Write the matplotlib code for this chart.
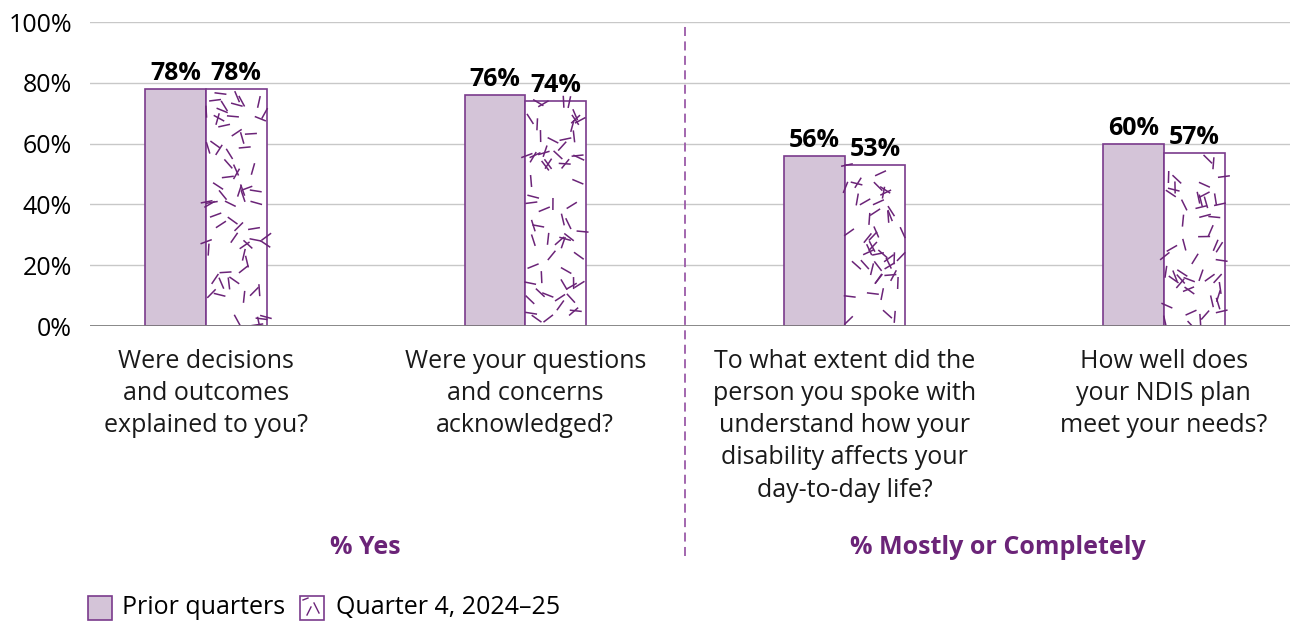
import numpy as np
import matplotlib
matplotlib.use("Agg")
import matplotlib.pyplot as plt
from matplotlib.patches import Rectangle
from matplotlib.collections import LineCollection

plt.rcParams['font.family'] = ['Open Sans', 'DejaVu Sans']

# chart data
questions = [
    "Were decisions\nand outcomes\nexplained to you?",
    "Were your questions\nand concerns\nacknowledged?",
    "To what extent did the\nperson you spoke with\nunderstand how your\ndisability affects your\nday-to-day life?",
    "How well does\nyour NDIS plan\nmeet your needs?",
]
prior = [78, 76, 56, 60]
current = [78, 74, 53, 57]
sections = ["% Yes", "% Mostly or Completely"]
series_names = ["Prior quarters", "Quarter 4, 2024\u201325"]

PURPLE = "#7a3b8c"
DARK_PURPLE = "#6b2478"
FILL = "#d4c4d8"
GRID = "#c8c8c8"
FS = 18

fig = plt.figure(figsize=(12.93, 6.25), dpi=100)
ax = fig.add_axes([90 / 1293, 299 / 625, 1200 / 1293, 304 / 625])

x = np.arange(len(questions))
w = 0.19
ax.set_xlim(-0.363, 3.395)
ax.set_ylim(0, 100)

ax.bar(x - w / 2, prior, w, color=FILL, edgecolor=PURPLE, linewidth=1.2, zorder=3)
bars2 = ax.bar(x + w / 2, current, w, color="white", edgecolor=PURPLE, linewidth=1.2, zorder=3)


def confetti(ax, patch, rng, density=0.005, seg_px=12):
    # scatter short dashes inside a bar, clipped to its outline
    px = ax.transData.transform([(0, 0), (1, 1)])
    sx = px[1, 0] - px[0, 0]
    sy = px[1, 1] - px[0, 1]
    x0, y0 = patch.get_x(), patch.get_y()
    bw, bh = patch.get_width(), patch.get_height()
    n = int(density * bw * sx * bh * sy)
    cx = x0 + rng.uniform(0, 1, n) * bw
    cy = y0 + rng.uniform(0, 1, n) * bh
    ang = rng.uniform(0, np.pi, n)
    dx = 0.5 * seg_px * np.cos(ang) / sx
    dy = 0.5 * seg_px * np.sin(ang) / sy
    segs = np.stack([np.column_stack([cx - dx, cy - dy]),
                     np.column_stack([cx + dx, cy + dy])], axis=1)
    lc = LineCollection(segs, colors=DARK_PURPLE, linewidths=1.1, zorder=4)
    lc.set_clip_path(patch)
    ax.add_collection(lc)


rng = np.random.default_rng(7)
for b in bars2:
    confetti(ax, b, rng)

# value labels
for xi, v in zip(x - w / 2, prior):
    ax.annotate(f"{v}%", (xi, v), xytext=(0, 2), textcoords="offset points",
                ha="center", va="bottom", fontsize=FS, fontweight="bold")
for xi, v in zip(x + w / 2, current):
    ax.annotate(f"{v}%", (xi, v), xytext=(0, 2), textcoords="offset points",
                ha="center", va="bottom", fontsize=FS, fontweight="bold")

ax.set_yticks(range(0, 101, 20))
ax.set_yticklabels([f"{t}%" for t in range(0, 101, 20)], fontsize=FS)
ax.set_xticks([])
ax.yaxis.grid(True, color=GRID, linewidth=1)
ax.set_axisbelow(True)
for s in ax.spines.values():
    s.set_visible(False)
ax.axhline(0, color="#7f7f7f", linewidth=2, zorder=5)
ax.tick_params(axis="y", length=0, pad=13)

# category labels under the groups
for xi, q in zip(x, questions):
    ax.text(xi, -0.075, q, transform=ax.get_xaxis_transform(), ha="center", va="top",
            fontsize=FS, linespacing=1.38, color="#1a1a1a")

# section labels and divider
ax.text(0.5, -0.73, sections[0], transform=ax.get_xaxis_transform(), ha="center", va="center",
        fontsize=FS, fontweight="bold", color=DARK_PURPLE)
ax.text(2.48, -0.73, sections[1], transform=ax.get_xaxis_transform(), ha="center", va="center",
        fontsize=FS, fontweight="bold", color=DARK_PURPLE)
ax.plot([1.5, 1.5], [-0.755, 1.0], transform=ax.get_xaxis_transform(), clip_on=False,
        color="#9b5ba8", linewidth=1.3, linestyle=(0, (5, 3)), zorder=6)

# legend drawn by hand so the textured swatch shows
fw, fh = 1293, 625
sw1 = Rectangle((88 / fw, (625 - 620) / fh), 24 / fw, 24 / fh, transform=fig.transFigure,
                facecolor=FILL, edgecolor=PURPLE, linewidth=1.2)
fig.patches.append(sw1)
fig.text(122 / fw, (625 - 608) / fh, series_names[0], ha="left", va="center", fontsize=FS)
sw2 = Rectangle((300 / fw, (625 - 620) / fh), 24 / fw, 24 / fh, transform=fig.transFigure,
                facecolor="white", edgecolor=PURPLE, linewidth=1.2)
fig.patches.append(sw2)
fig.add_artist(plt.Line2D([307 / fw, 311 / fw], [10 / fh, 18 / fh], transform=fig.transFigure,
                          color=DARK_PURPLE, linewidth=1))
fig.add_artist(plt.Line2D([314 / fw, 319 / fw], [22 / fh, 12 / fh], transform=fig.transFigure,
                          color=DARK_PURPLE, linewidth=1))
fig.add_artist(plt.Line2D([303 / fw, 308 / fw], [25 / fh, 27 / fh], transform=fig.transFigure,
                          color=DARK_PURPLE, linewidth=1))
fig.text(336 / fw, (625 - 608) / fh, series_names[1], ha="left", va="center", fontsize=FS)

fig.savefig("out.png", dpi=100)
